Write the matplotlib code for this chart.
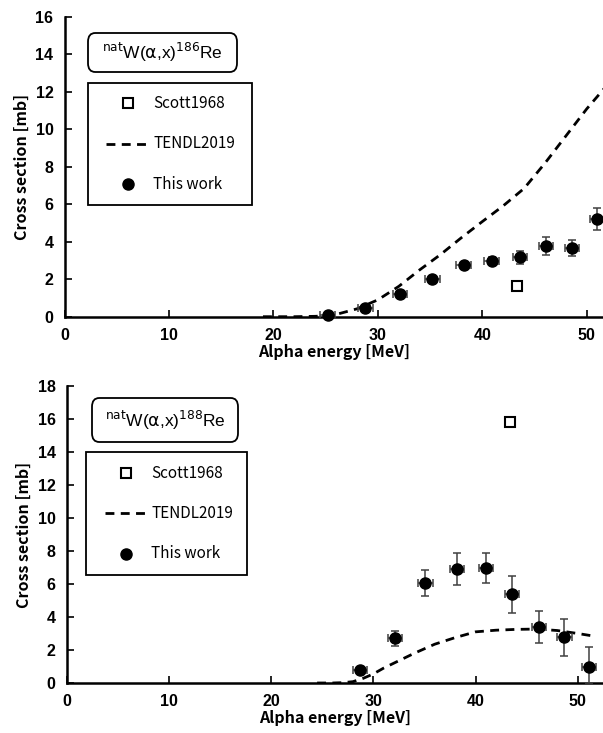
import matplotlib
matplotlib.use("Agg")
import matplotlib.pyplot as plt
from matplotlib.patches import FancyBboxPatch, Rectangle
from matplotlib.lines import Line2D

# ---- Data: natW(a,x)186Re ----
e186 = [25.2, 28.8, 32.1, 35.2, 38.2, 40.9, 43.6, 46.1, 48.6, 51.0]
cs186 = [0.09, 0.48, 1.21, 2.00, 2.74, 2.98, 3.17, 3.80, 3.67, 5.20]
cs186_err_lo = [0.05, 0.10, 0.12, 0.15, 0.20, 0.22, 0.36, 0.48, 0.45, 0.58]
cs186_err_hi = [0.05, 0.10, 0.12, 0.15, 0.20, 0.22, 0.36, 0.48, 0.45, 0.58]
e186_err = [0.7, 0.7, 0.7, 0.7, 0.7, 0.7, 0.7, 0.7, 0.7, 0.7]
scott186_e = [43.3]
scott186_cs = [1.66]
tendl186_e = [19, 20, 22, 24, 25, 26, 28, 30, 32, 34, 36, 38, 40, 42, 44, 46, 48, 50, 52]
tendl186_cs = [0.0, 0.0, 0.0, 0.02, 0.05, 0.12, 0.42, 0.90, 1.62, 2.50, 3.32, 4.22, 5.08, 5.92, 6.85, 8.20, 9.65, 11.10, 12.40]

# ---- Data: natW(a,x)188Re ----
e188 = [28.7, 32.1, 35.1, 38.2, 41.0, 43.6, 46.2, 48.7, 51.1]
cs188 = [0.79, 2.71, 6.04, 6.91, 6.95, 5.37, 3.41, 2.77, 0.99]
cs188_err_lo = [0.12, 0.46, 0.79, 0.98, 0.91, 1.11, 0.98, 1.11, 0.99]
cs188_err_hi = [0.12, 0.46, 0.79, 0.98, 0.91, 1.11, 0.98, 1.11, 1.21]
e188_err = [0.7, 0.7, 0.7, 0.7, 0.7, 0.7, 0.7, 0.7, 0.7]
scott188_e = [43.4]
scott188_cs = [15.8]
tendl188_e = [24.5, 26, 27, 28, 29, 30, 31, 32, 34, 36, 38, 40, 42, 44, 46, 48, 50, 51.5]
tendl188_cs = [0.0, 0.0, 0.02, 0.08, 0.28, 0.55, 0.90, 1.20, 1.80, 2.35, 2.75, 3.10, 3.20, 3.25, 3.27, 3.18, 3.00, 2.85]

xticks = [0, 10, 20, 30, 40, 50]
yticks186 = [0, 2, 4, 6, 8, 10, 12, 14, 16]
yticks188 = [0, 2, 4, 6, 8, 10, 12, 14, 16, 18]

W, H = 603, 733
fig = plt.figure(figsize=(W / 100, H / 100), dpi=100)

def px_rect(x0, y0, x1, y1):
    # pixel (top-left origin) -> figure fraction [l, b, w, h]
    return [x0 / W, 1 - y1 / H, (x1 - x0) / W, (y1 - y0) / H]

tickfont = dict(family=["Liberation Sans", "DejaVu Sans"], weight="bold", size=11.5)
labelfont = dict(family=["Noto Sans CJK JP", "DejaVu Sans"], weight="bold", size=11.5)
legfont = ["Noto Sans CJK JP", "DejaVu Sans"]
errc = "#404040"
DASH = (0, (3.2, 2.3))

def make_panel(rect, xmax, ymax, yticks, e, cs, cs_lo, cs_hi, e_err, se, scs, te, tcs,
               title_mass, title_box, leg_box, leg_rows, marker_x, line_x, text_x):
    ax = fig.add_axes(rect)
    ax.set_xlim(0, xmax)
    ax.set_ylim(0, ymax)
    for s in ["top", "right"]:
        ax.spines[s].set_visible(False)
    for s in ["left", "bottom"]:
        ax.spines[s].set_linewidth(1.8)
    ax.set_xticks(xticks)
    ax.set_yticks(yticks)
    ax.tick_params(direction="in", length=5, width=1.2, pad=8)
    ax.set_xticklabels([str(t) for t in xticks], **tickfont)
    ax.set_yticklabels([str(t) for t in yticks], **tickfont)
    ax.set_xlabel("Alpha energy [MeV]", labelpad=1, **labelfont)
    ax.set_ylabel("Cross section [mb]", labelpad=4, **labelfont)

    ax.plot(te, tcs, color="black", linestyle=DASH, linewidth=2.0, zorder=2)
    ax.errorbar(e, cs, yerr=[cs_lo, cs_hi], xerr=e_err, fmt="o", color="black", ms=8,
                ecolor=errc, elinewidth=1.1, capsize=3, capthick=1.1, zorder=4, clip_on=False)
    ax.plot(se, scs, linestyle="none", marker="s", ms=6.5, mfc="white", mec="black",
            mew=1.5, zorder=5)

    # title box
    x0, y0, x1, y1 = title_box
    l, b, w, h = px_rect(x0, y0, x1, y1)
    fig.patches.append(FancyBboxPatch((l, b), w, h, boxstyle="round,pad=0,rounding_size=0.012",
                                      transform=fig.transFigure, fc="white", ec="black", lw=1.3))
    fig.text(l + w / 2, b + h / 2,
             r"$^{\mathrm{nat}}$W($\mathrm{\alpha}$,x)$^{%s}$Re" % title_mass,
             ha="center", va="center", fontsize=12.5, family=["Liberation Sans", "DejaVu Sans"])

    # legend box
    x0, y0, x1, y1 = leg_box
    l, b, w, h = px_rect(x0, y0, x1, y1)
    fig.patches.append(Rectangle((l, b), w, h, transform=fig.transFigure,
                                 fc="white", ec="black", lw=1.3))
    ys = [1 - r / H for r in leg_rows]
    fig.lines.append(Line2D([marker_x / W], [ys[0]], marker="s", ms=6.5, mfc="white",
                            mec="black", mew=1.5, transform=fig.transFigure))
    fig.lines.append(Line2D([line_x[0] / W, line_x[1] / W], [ys[1], ys[1]], color="black",
                            linestyle=DASH, lw=2.0, transform=fig.transFigure))
    fig.lines.append(Line2D([marker_x / W], [ys[2]], marker="o", ms=8, color="black",
                            transform=fig.transFigure))
    for yy, t in zip(ys, ["Scott1968", "TENDL2019", "This work"]):
        fig.text(text_x / W, yy, t, ha="left", va="center", fontsize=11, family=legfont)
    return ax

make_panel(px_rect(64.5, 17, 603, 316.7), 51.55, 16, yticks186,
           e186, cs186, cs186_err_lo, cs186_err_hi, e186_err, scott186_e, scott186_cs,
           tendl186_e, tendl186_cs,
           "186", (88, 33, 237, 72), (88, 83, 252, 205), [103, 144, 184], 128, (106, 148), 153)

make_panel(px_rect(66.7, 386, 603, 683), 52.47, 18, yticks188,
           e188, cs188, cs188_err_lo, cs188_err_hi, e188_err, scott188_e, scott188_cs,
           tendl188_e, tendl188_cs,
           "188", (92, 398, 238, 442), (86, 452, 247, 575), [473, 513, 554], 126, (105, 146), 151)

fig.savefig("out.png", dpi=100)
